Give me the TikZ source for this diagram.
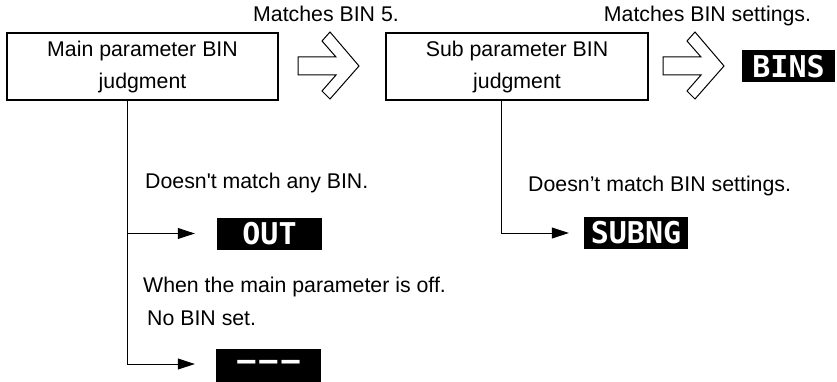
\documentclass[tikz,border=0pt]{standalone}
\usepackage{fontspec}
\setmainfont{Liberation Sans}[Ligatures=TeXOff]
\newfontfamily\lcdfamily{DejaVu Sans Mono}
\usetikzlibrary{arrows.meta}

\tikzset{
  judgebox/.style={draw, line width=1.2pt, minimum height=67pt, inner sep=0pt,
    align=center, font=\fontsize{21.3}{32}\selectfont},
  lcd/.style={fill=black, text=white, inner sep=0pt, minimum height=32pt,
    font=\lcdfamily\bfseries\fontsize{30}{30}\selectfont},
  note/.style={inner sep=0pt, font=\fontsize{21.3}{24}\selectfont},
  flow/.style={line width=1pt, -{Triangle[length=17pt,width=11pt]}},
  hollow arrow/.pic={
    \draw[line width=1pt] (0,-9) -- (38,-9) -- (24,-25) -- (32,-34) -- (61,0)
      -- (32,33) -- (24,25) -- (38,9) -- (0,9) -- cycle;
  }
}

\begin{document}
\begin{tikzpicture}[x=1pt, y=-1pt]
\useasboundingbox (0,0) rectangle (837,382);
% judgment boxes
\node[judgebox, minimum width=271pt] (main) at (142.5,66.5) {Main parameter BIN\\judgment};
\node[judgebox, minimum width=262pt] (sub) at (517,66.5) {Sub parameter BIN\\judgment};
\pic at (298,66) {hollow arrow};
\pic at (663,66) {hollow arrow};
\node[note, anchor=base] (matchfive) at (326,22) {Matches BIN 5.};
\node[note, anchor=base] (matchset) at (707.5,22) {Matches BIN settings.};
% displays
\node[lcd, minimum width=93pt] (bins) at (788.5,66.5) {BINS};
\node[lcd, minimum width=105pt] (out) at (269.5,233.5) {OUT};
\node[lcd, minimum width=104pt] (subng) at (636,233) {SUBNG};
\node[lcd, minimum width=105pt, minimum height=33pt] (nobin) at (268.5,365.5) {–\hspace{4pt}–\hspace{4pt}–};
% branches
\coordinate (mainfoot) at (127,100);
\coordinate (subfoot) at (501,100);
\draw[flow] (mainfoot) |- ([xshift=-22pt]out.west);
\draw[flow] (mainfoot) |- ([xshift=-21pt,yshift=1.5pt]nobin.west);
\draw[flow] (subfoot) |- ([xshift=-15pt]subng.west);
\node[note, anchor=base west] (nomatch) at (145,189) {Doesn't match any BIN.};
\node[note, anchor=base west] (subnomatch) at (528,192) {Doesn’t match BIN settings.};
\node[note, anchor=base west] (mainoff) at (143,292) {When the main parameter is off.};
\node[note, anchor=base west] (nobinset) at (147,325) {No BIN set.};
\end{tikzpicture}
\end{document}
